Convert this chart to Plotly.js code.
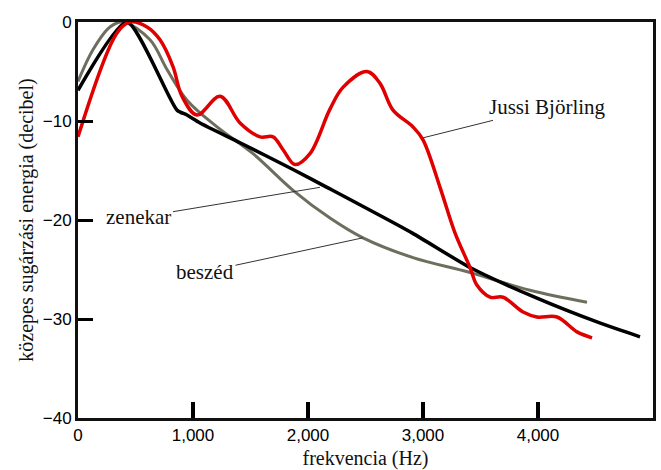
<!DOCTYPE html>
<html>
<head>
<meta charset="utf-8">
<script src="https://cdn.plot.ly/plotly-3.0.1.min.js"></script>
<style>html,body{margin:0;padding:0;background:#fff;}#chart{width:661px;height:470px;}</style>
</head>
<body>
<div id="chart"></div>
<script>
// Jussi Björling (red)
const jussiX = [0, 339, 452, 600, 713, 826, 904, 1035, 1235, 1409, 1583, 1696, 1783, 1887, 2017, 2191, 2304, 2513, 2626, 2739, 2913, 3000, 3148, 3278, 3409, 3470, 3583, 3696, 3870, 3991, 4165, 4339, 4470];
const jussiY = [-11.6, -1.1, 0, -0.5, -1.8, -4.5, -7.5, -9.4, -7.5, -10.2, -11.6, -11.6, -12.9, -14.4, -13.3, -8.8, -6.6, -5.0, -6.2, -8.9, -10.6, -11.9, -16.7, -21.3, -24.8, -26.6, -27.8, -27.8, -29.3, -29.8, -29.8, -31.3, -31.9];
// zenekar (black)
const zenekarX = [0, 426, 861, 948, 1061, 1409, 1870, 2165, 2904, 3409, 3991, 4513, 4887];
const zenekarY = [-6.9, 0, -8.9, -9.4, -10.2, -12.2, -14.9, -16.7, -21.3, -24.8, -27.9, -30.3, -31.8];
// beszéd (gray)
const beszedX = [0, 130, 278, 391, 626, 774, 948, 1209, 1522, 1870, 2191, 2478, 2913, 3409, 3930, 4426];
const beszedY = [-6.0, -2.8, -0.5, 0, -1.8, -4.8, -7.9, -10.6, -13.3, -17.0, -19.8, -21.8, -23.8, -25.3, -27.1, -28.3];

const xTicks = [0, 1000, 2000, 3000, 4000, 5000];
const xTickText = ['0', '1,000', '2,000', '3,000', '4,000', '5,000'];
const yTicks = [0, -10, -20, -30, -40];
const yTickText = ['0', '\u221210', '\u221220', '\u221230', '\u221240'];

const serif = 'Liberation Serif';
const sans = 'Liberation Sans';

const traces = [
  {x: beszedX, y: beszedY, mode: 'lines', name: 'beszéd', line: {color: '#6e6e5e', width: 3, shape: 'spline', smoothing: 1}},
  {x: zenekarX, y: zenekarY, mode: 'lines', name: 'zenekar', line: {color: '#000', width: 3.5, shape: 'spline', smoothing: 0.6}},
  {x: jussiX, y: jussiY, mode: 'lines', name: 'Jussi Björling', line: {color: '#e00000', width: 3.5, shape: 'spline', smoothing: 1}}
];

// inner tick marks on the x axis (drawn from the tick values)
const xTickShapes = xTicks.filter(t => t > 0 && t < 5000).map(t => ({
  type: 'line', xref: 'x', yref: 'y', x0: t, x1: t, y0: -40, y1: -38.4,
  layer: 'above', line: {color: '#000', width: 4}
}));

const annFont = {family: serif, size: 21, color: '#111'};
const layout = {
  width: 661, height: 470,
  margin: {l: 78, r: 8, t: 22, b: 52},
  paper_bgcolor: '#fff', plot_bgcolor: '#fff',
  showlegend: false,
  shapes: xTickShapes,
  xaxis: {
    range: [0, 5000], tickvals: xTicks, ticktext: xTickText,
    ticks: 'inside', ticklen: 16, tickwidth: 4, tickcolor: '#000',
    showline: true, linewidth: 3, linecolor: '#111', mirror: true,
    showgrid: false, zeroline: false,
    tickfont: {family: sans, size: 17, color: '#000'},
    title: {text: 'frekvencia (Hz)', font: {family: serif, size: 20, color: '#111'}, standoff: 10}
  },
  yaxis: {
    range: [-40, 0], tickvals: yTicks, ticktext: yTickText,
    ticks: 'inside', ticklen: 15, tickwidth: 3, tickcolor: '#000',
    showline: true, linewidth: 3, linecolor: '#111', mirror: true,
    showgrid: false, zeroline: false,
    tickfont: {family: sans, size: 17, color: '#000'},
    title: {text: 'közepes sugárzási energia (decibel)', font: {family: serif, size: 20, color: '#111'}, standoff: 4}
  },
  annotations: [
    {x: 2104, y: -16.7, xref: 'x', yref: 'y', text: 'zenekar', showarrow: true, arrowhead: 0, arrowwidth: 1, arrowcolor: '#333', ax: -181, ay: 30, font: annFont, standoff: 0},
    {x: 2478, y: -21.8, xref: 'x', yref: 'y', text: 'beszéd', showarrow: true, arrowhead: 0, arrowwidth: 1, arrowcolor: '#333', ax: -158, ay: 34, font: annFont, standoff: 0},
    {x: 3000, y: -11.7, xref: 'x', yref: 'y', text: 'Jussi Björling', showarrow: true, arrowhead: 0, arrowwidth: 1, arrowcolor: '#333', ax: 124, ay: -31, font: annFont, standoff: 0}
  ]
};

Plotly.newPlot('chart', traces, layout, {displayModeBar: false, staticPlot: true});
</script>
</body>
</html>
